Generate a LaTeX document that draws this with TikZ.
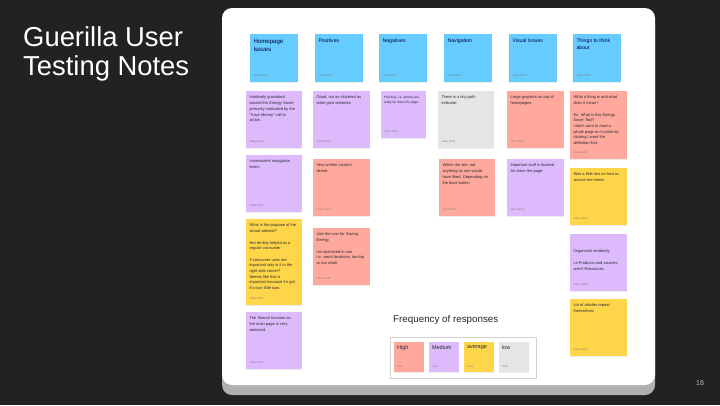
\documentclass[tikz,border=0pt]{standalone}
\usepackage{fontspec}
\setmainfont{Liberation Sans}
\usetikzlibrary{positioning,shadows}

\definecolor{slidebg}{RGB}{34,34,34}
\definecolor{cardshade}{RGB}{176,176,176}
\definecolor{hdrblue}{RGB}{102,204,255}
\definecolor{lilac}{RGB}{221,186,252}
\definecolor{salmon}{RGB}{255,169,156}
\definecolor{mustard}{RGB}{255,214,74}
\definecolor{pale}{RGB}{229,229,229}
\definecolor{inkgray}{RGB}{40,40,48}
\definecolor{authgray}{RGB}{125,125,125}

% text block of a sticky note: width, height (full box), text, author
\newcommand{\stick}[4]{\parbox[b][\dimexpr#2pt-10pt\relax][t]{\dimexpr#1pt-7pt\relax}{\raggedright
  \fontsize{4.0}{5.7}\selectfont #3\par\vfill{\fontsize{2.6}{3}\selectfont\color{authgray}#4}}}
\newcommand{\headtxt}[2]{\parbox[b][38pt][t]{41pt}{\raggedright
  \fontsize{5.2}{7}\selectfont #1\par\vfill{\fontsize{2.6}{3}\selectfont\color{authgray}#2}}}
\newcommand{\legtxt}[1]{\parbox[b][22pt][t]{24pt}{\raggedright
  \fontsize{5.5}{6.5}\selectfont #1\par\vfill{\fontsize{2.4}{3}\selectfont\color{authgray}Claire}}}

\begin{document}
\begin{tikzpicture}[x=1pt, y=-1pt,
  note/.style={anchor=north west, inner xsep=3.5pt, inner ysep=5pt, outer sep=0pt,
               text=inkgray, drop shadow={opacity=0.15, shadow xshift=0pt, shadow yshift=-0.8pt}},
  hdr/.style={note, fill=hdrblue, text=black!75!blue},
  legitem/.style={note, inner xsep=3pt, inner ysep=4pt},
  title/.style={anchor=base west, inner sep=0pt, text=white, font=\fontsize{27.4}{30}\selectfont},
]
  \useasboundingbox (0,0) rectangle (720,405);
  \fill[slidebg] (0,0) rectangle (720,405);
  % title
  \node[title] (ttl1) at (23,46) {Guerilla User};
  \node[title] (ttl2) at (23,75) {Testing Notes};
  \node[text=gray!55, font=\fontsize{7}{8}\selectfont] (pgnum) at (700,383) {18};
  % board
  \fill[cardshade, rounded corners=10pt] (222,14) rectangle (655,395);
  \fill[white, rounded corners=10pt] (222,8) rectangle (655,385);
  % header row
  \node[hdr] (hdrHome) at (250,34) {\headtxt{\fontsize{6.1}{8.3}\selectfont Homepage\\Issues}{Claire Smith}};
  \node[hdr] (hdrPos) at (315,34) {\headtxt{Positives}{Claire Smith}};
  \node[hdr] (hdrNeg) at (379,34) {\headtxt{Negatives}{Claire Smith}};
  \node[hdr] (hdrNav) at (444,34) {\headtxt{Navigation}{Claire Smith}};
  \node[hdr] (hdrVis) at (509,34) {\headtxt{Visual Issues}{Claire Smith}};
  \node[hdr] (hdrThink) at (573,34) {\headtxt{Things to think\\about}{Claire Smith}};
  % homepage issues
  \node[note, fill=lilac] (home1) at (246,91) {\stick{56}{57}{Intuitively gravitated\\toward the Energy Saver,\\primarily motivated by the\\``Save Money'' call to\\action.}{Aditya Kumar}};
  \node[note, fill=lilac] (home2) at (246,155) {\stick{56}{57}{Inconsistent navigation\\terms}{Claire Smith}};
  \node[note, fill=mustard] (home3) at (246,219) {\stick{56}{86}{What is the purpose of the\\actual website?\\[5.7pt]Not terribly helpful as a\\regular consumer\\[5.7pt]If consumer uses are\\important why is it in the\\right side corner?\\Seems like this is\\important because it's got\\it's own little icon.}{Claire Smith}};
  \node[note, fill=lilac] (home4) at (246,312) {\stick{56}{57}{The Search function on\\the main page is very\\awkward.}{Claire Smith}};
  % positives
  \node[note, fill=lilac] (pos1) at (313,91) {\stick{57}{57}{Good, not as cluttered as\\other govt websites}{Claire Smith}};
  \node[note, fill=salmon] (pos2) at (313,159) {\stick{57}{57}{Very written content\\dense.}{Hailey Flores}};
  \node[note, fill=salmon] (pos3) at (313,228) {\stick{57}{57}{Like the icon for Saving\\Energy\\[5.7pt]not optimized in use\\i.e. weird locations, too big\\or too small}{Claire Smith}};
  % negatives
  \node[note, fill=lilac, inner xsep=3pt] (neg1) at (381,91) {\stick{46}{47}{\fontsize{3.2}{4.8}\selectfont Priorities, i.e. articles are\\really far down the page.}{Claire Smith}};
  % navigation
  \node[note, fill=pale] (nav1) at (438,91) {\stick{56}{57}{There is a tiny path\\indicator.}{Claire Smith}};
  \node[note, fill=salmon] (nav2) at (439,159) {\stick{56}{57}{Within the site, not\\anything as she would\\have liked. Depending on\\the back button}{Claire Smith}};
  % visual issues
  \node[note, fill=salmon] (vis1) at (507,91) {\stick{57}{57}{Large graphics on top of\\homepages.}{Claire Smith}};
  \node[note, fill=lilac] (vis2) at (507,159) {\stick{57}{57}{Important stuff is located\\far down the page}{Claire Smith}};
  % things to think about
  \node[note, fill=salmon] (think1) at (570,91) {\stick{57}{68}{What a thing is and what\\does it mean?\\[5.7pt]Ex: What is this Energy\\Saver Tool?\\I don't want to read a\\whole page on it value by\\clicking I want the\\definition first.}{Claire Smith}};
  \node[note, fill=mustard] (think2) at (570,168) {\stick{57}{57}{Was a little lost on how to\\access the home.}{Claire Smith}};
  \node[note, fill=lilac] (think3) at (570,234) {\stick{57}{57}{\vspace*{11pt}Organized randomly\\[5.7pt]i.e.Products and sources\\aren't Resources.}{Claire Smith}};
  \node[note, fill=mustard] (think4) at (570,299) {\stick{57}{57}{Lot of articles repeat\\themselves.}{Claire Smith}};
  % legend
  \node[anchor=base west, inner sep=0pt, text=black!85, font=\fontsize{9.8}{11}\selectfont] (legTitle) at (393,322.5) {Frequency of responses};
  \node[anchor=north west, draw=black!18, line width=0.6pt, fill=white, inner sep=0pt,
        minimum width=146pt, minimum height=41pt] (legend) at (390,337) {};
  \node[legitem, fill=salmon] (lgHigh) at (394,342) {\legtxt{High}};
  \node[legitem, fill=lilac, right=5pt of lgHigh] (lgMed) {\legtxt{Medium}};
  \node[legitem, fill=mustard, right=5pt of lgMed] (lgAvg) {\legtxt{average}};
  \node[legitem, fill=pale, right=5pt of lgAvg] (lgLow) {\legtxt{low}};
\end{tikzpicture}
\end{document}
